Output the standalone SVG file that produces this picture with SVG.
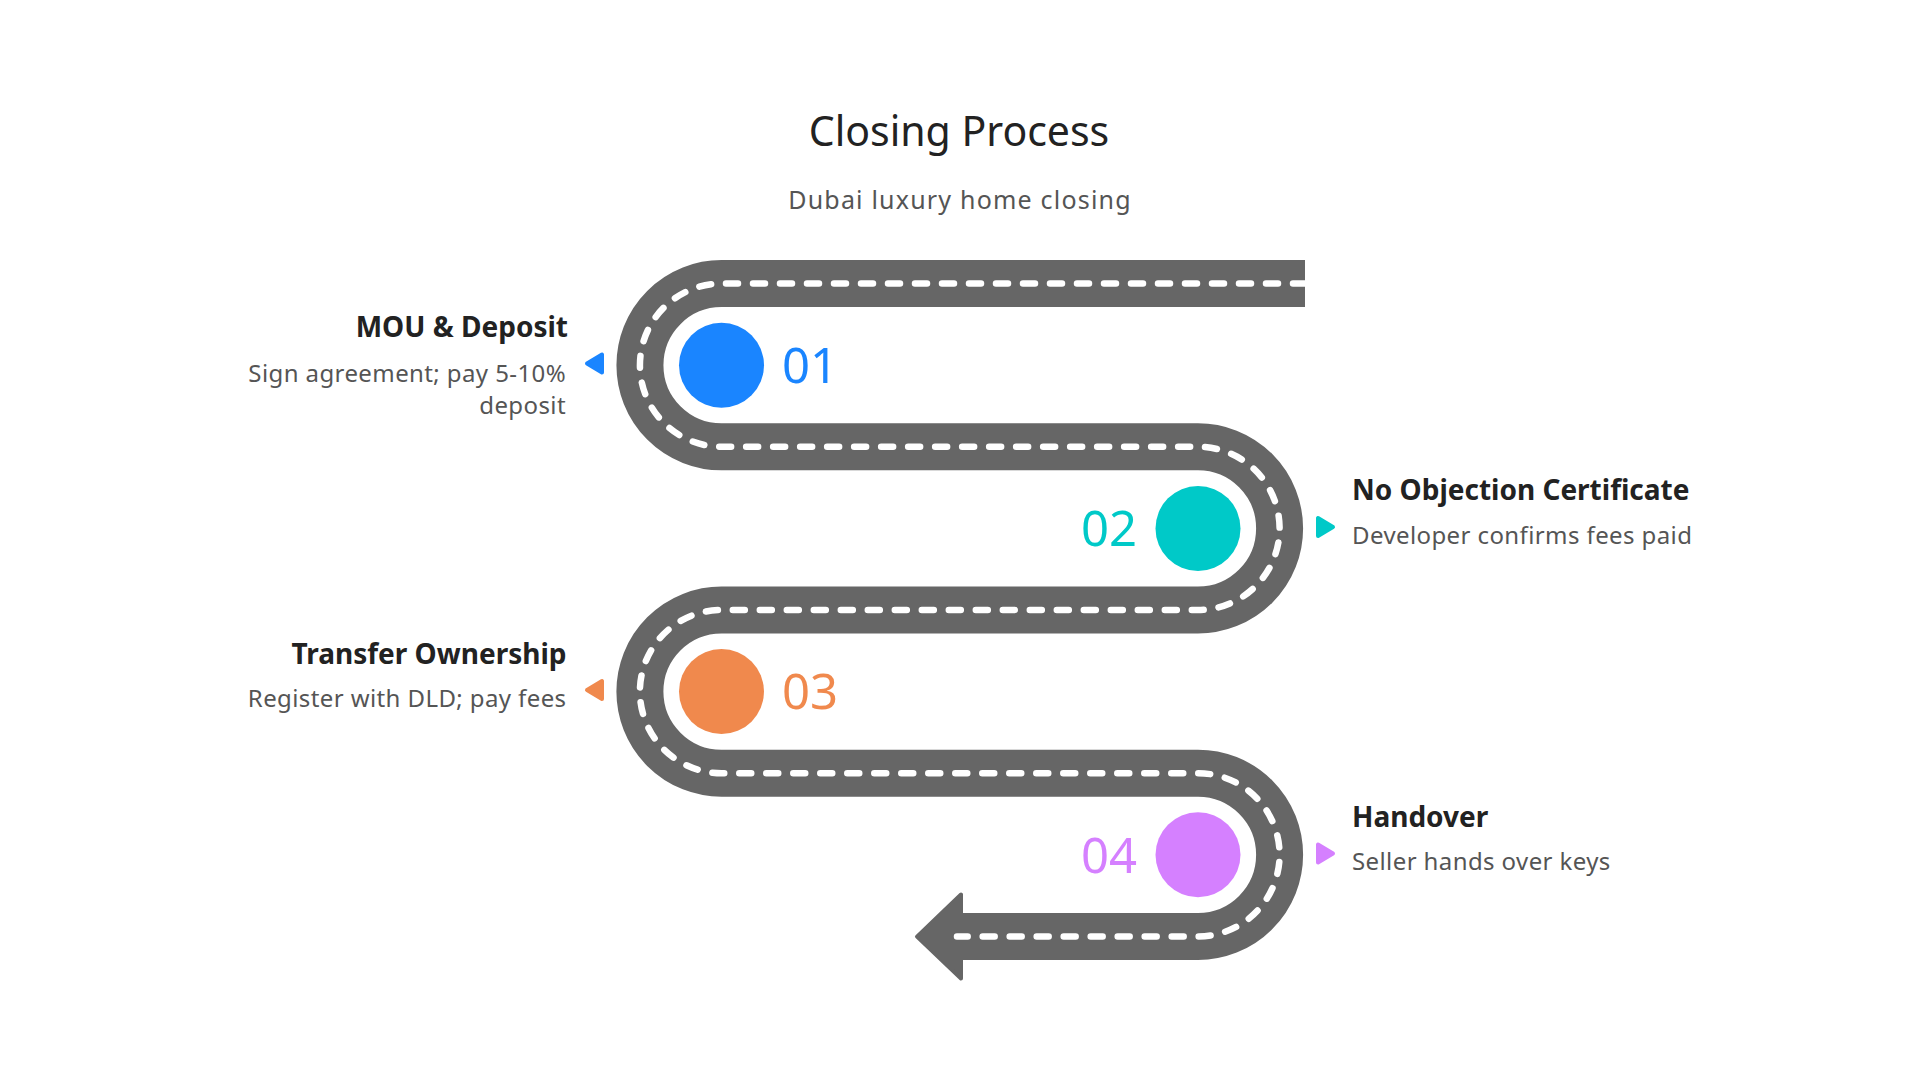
<svg xmlns="http://www.w3.org/2000/svg" width="1920" height="1080" viewBox="0 0 1920 1080">
<style>
text{font-family:"Noto Sans","Open Sans","DejaVu Sans",sans-serif}
.title{font-size:41px;fill:#222;text-anchor:middle}
.sub{font-size:25px;fill:#555;text-anchor:middle;letter-spacing:1.2px}
.head{font-size:28px;font-weight:bold;fill:#222}
.desc{font-size:24px;fill:#555;letter-spacing:0.4px}
.num{font-size:49px}
.road{fill:none;stroke:#666;stroke-width:47}
.dash{fill:none;stroke:#fff;stroke-width:6.5;stroke-linecap:round;stroke-dasharray:12 15}
</style>
<rect width="1920" height="1080" fill="#fff"/>
<text class="title" x="959" y="146">Closing Process</text>
<text class="sub" x="960" y="209">Dubai luxury home closing</text>
<g id="road">
<path class="road" d="M1305 283.6 H721.5 A81.6 81.6 0 0 0 721.5 446.8 H1198 A81.6 81.6 0 0 1 1198 610 H721.5 A81.6 81.6 0 0 0 721.5 773.2 H1198 A81.6 81.6 0 0 1 1198 936.4 H960"/>
<path d="M917 936.6 L961 894.5 L961 978.5 Z" fill="#666" stroke="#666" stroke-width="4" stroke-linejoin="round"/>
<path class="dash" d="M1305 283.6 H721.5 A81.6 81.6 0 0 0 721.5 446.8 H1198 A81.6 81.6 0 0 1 1198 610 H721.5 A81.6 81.6 0 0 0 721.5 773.2 H1198 A81.6 81.6 0 0 1 1198 936.4 H957"/>
</g>
<g id="step1">
<circle cx="721.5" cy="365.2" r="42.5" fill="#1a85ff"/>
<text class="num" x="782" y="382.7" fill="#1a85ff">01</text>
<path d="M587 363.5 L602 354.5 L602 372.5 Z" fill="#1a85ff" stroke="#1a85ff" stroke-width="4" stroke-linejoin="round"/>
<text class="head" x="568" y="337" text-anchor="end">MOU &amp; Deposit</text>
<text class="desc" x="566" y="381.5" text-anchor="end">Sign agreement; pay 5-10%</text>
<text class="desc" x="566" y="413.5" text-anchor="end">deposit</text>
</g>
<g id="step2">
<circle cx="1198" cy="528.4" r="42.5" fill="#00c9c8"/>
<text class="num" x="1137" y="546" fill="#00c9c8" text-anchor="end">02</text>
<path d="M1333 527 L1318 518 L1318 536 Z" fill="#00c9c8" stroke="#00c9c8" stroke-width="4" stroke-linejoin="round"/>
<text class="head" x="1352" y="500">No Objection Certificate</text>
<text class="desc" x="1352" y="543.5">Developer confirms fees paid</text>
</g>
<g id="step3">
<circle cx="721.5" cy="691.6" r="42.5" fill="#f0894d"/>
<text class="num" x="782" y="709" fill="#f0894d">03</text>
<path d="M587 690 L602 681 L602 699 Z" fill="#f0894d" stroke="#f0894d" stroke-width="4" stroke-linejoin="round"/>
<text class="head" x="566.5" y="664.3" text-anchor="end">Transfer Ownership</text>
<text class="desc" x="566.5" y="707.3" text-anchor="end">Register with DLD; pay fees</text>
</g>
<g id="step4">
<circle cx="1198" cy="854.8" r="42.5" fill="#d580ff"/>
<text class="num" x="1137" y="872.5" fill="#d580ff" text-anchor="end">04</text>
<path d="M1333 853.5 L1318 844.5 L1318 862.5 Z" fill="#d580ff" stroke="#d580ff" stroke-width="4" stroke-linejoin="round"/>
<text class="head" x="1352" y="827.3">Handover</text>
<text class="desc" x="1352" y="870">Seller hands over keys</text>
</g>
</svg>
